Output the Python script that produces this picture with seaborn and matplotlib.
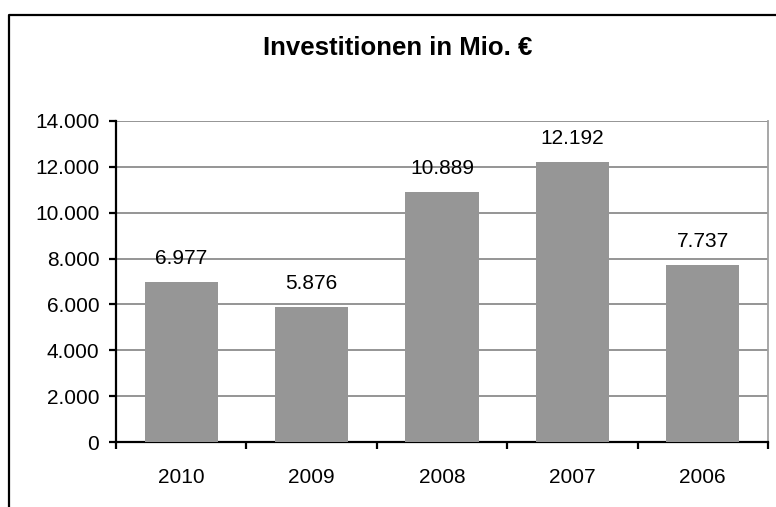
import matplotlib
matplotlib.use("Agg")
import matplotlib.pyplot as plt
import seaborn as sns
import pandas as pd
from matplotlib.ticker import FuncFormatter, FixedLocator
from matplotlib.lines import Line2D

years = ["2010", "2009", "2008", "2007", "2006"]
values = [6977, 5876, 10889, 12192, 7737]
title = "Investitionen in Mio. €"

sns.set_style("white")
plt.rcParams["font.family"] = ["Liberation Sans", "DejaVu Sans"]

df = pd.DataFrame({"Jahr": years, "Wert": values})

W, H = 776, 507
fig = plt.figure(figsize=(W / 100, H / 100), dpi=100)
ax = fig.add_axes([116 / W, 1 - 442 / H, (768 - 116) / W, (442 - 121) / H])

sns.barplot(data=df, x="Jahr", y="Wert", order=years, color="#969696",
            saturation=1, width=0.56, ax=ax, zorder=3)
for p in ax.patches:
    p.set_edgecolor("none")

ax.set_xlim(-0.5, len(years) - 0.5)
ax.set_ylim(0, 14000)
ax.set_yticks(range(0, 14001, 2000))
ax.yaxis.set_major_formatter(FuncFormatter(lambda v, _: f"{int(v):,}".replace(",", ".")))
ax.set_xlabel("")
ax.set_ylabel("")

# gridlines
ax.grid(axis="y", color="#8c8c8c", linewidth=1.3, zorder=0)
ax.set_axisbelow(True)

# spines
for s in ["left", "bottom"]:
    ax.spines[s].set_color("black")
    ax.spines[s].set_linewidth(1.6)
    ax.spines[s].set_visible(True)
ax.spines["right"].set_visible(True)
ax.spines["right"].set_color("#a0a0a0")
ax.spines["right"].set_linewidth(1.3)
ax.spines["top"].set_visible(False)

# x ticks: labels at centers, tick marks at boundaries
ax.tick_params(axis="x", which="major", length=0, pad=19, labelsize=15, colors="black")
ax.xaxis.set_minor_locator(FixedLocator([i - 0.5 for i in range(len(years) + 1)]))
ax.tick_params(axis="x", which="minor", length=5, width=1.6, direction="out",
               color="black", bottom=True)
ax.tick_params(axis="y", which="major", length=5, width=1.6, direction="out",
               pad=7, labelsize=15, colors="black", left=True)

for i, v in enumerate(values):
    ax.annotate(f"{v:,}".replace(",", "."), xy=(i, v), xytext=(0, 13),
                textcoords="offset points", ha="center", va="baseline",
                fontsize=15, color="black", zorder=5)

fig.text(398 / W, 1 - 48 / H, title, ha="center", va="center",
         fontsize=18.5, fontweight="bold", color="black")

# outer frame (cut at right and bottom)
fig.add_artist(Line2D([9 / W, 9 / W, 1.01], [-0.01, 1 - 15 / H, 1 - 15 / H],
                      transform=fig.transFigure, color="black", linewidth=1.6))

fig.savefig("out.png", dpi=100)
